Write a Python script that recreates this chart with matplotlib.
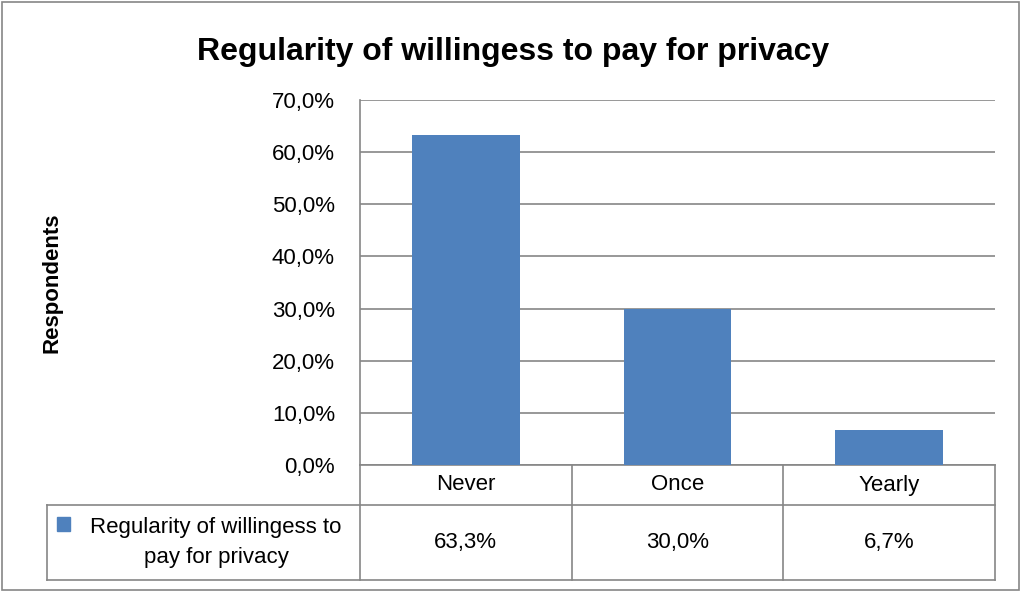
import matplotlib.pyplot as plt
from matplotlib.patches import Rectangle

plt.rcParams['font.family'] = ['Liberation Sans', 'DejaVu Sans']

categories = ['Never', 'Once', 'Yearly']
shares = [63.3, 30.0, 6.7]
legend_lines = ['Regularity of willingess to', 'pay for privacy']
title = 'Regularity of willingess to pay for privacy'
y_label = 'Respondents'
y_ticks = [0, 10, 20, 30, 40, 50, 60, 70]

W, H = 1023, 594
bar_color = '#4F81BD'
line_color = '#868686'
fs = 16


def pct(v):
    return f'{v:.1f}'.replace('.', ',') + '%'


fig = plt.figure(figsize=(W / 100, H / 100), dpi=100)

# plot area in pixels: x 360..995, y 100..465
px_l, px_r, px_t, px_b = 360, 995, 100, 465
ax = fig.add_axes([px_l / W, 1 - px_b / H, (px_r - px_l) / W, (px_b - px_t) / H])
ax.bar(range(len(categories)), shares, width=0.51, color=bar_color, zorder=3)
ax.set_xlim(-0.5, len(categories) - 0.5)
ax.set_ylim(0, 70)
ax.set_yticks(y_ticks)
ax.set_yticklabels([pct(v) for v in y_ticks], fontsize=fs)
ax.set_xticks([])
ax.tick_params(axis='y', length=0, pad=18)
ax.grid(axis='y', color=line_color, linewidth=1.2, zorder=0)
for s in ['top', 'right']:
    ax.spines[s].set_visible(False)
for s in ['left', 'bottom']:
    ax.spines[s].set_color(line_color)
    ax.spines[s].set_linewidth(1.2)

# overlay in pixel coordinates for the data table, title and frame
ov = fig.add_axes([0, 0, 1, 1], zorder=-1)
ov.set_xlim(0, W)
ov.set_ylim(H, 0)
ov.axis('off')

ov.add_patch(Rectangle((2, 2), W - 6, H - 6, fill=False, edgecolor=line_color, linewidth=1.2))

ov.text(513, 60, title, ha='center', va='baseline', fontsize=23, fontweight='bold')
ov.text(52, 283, y_label, ha='center', va='center', rotation=90, fontsize=fs, fontweight='bold')

row_top, row_mid, row_bot = px_b, 505, 580
col_x = [px_l + (px_r - px_l) * i / len(categories) for i in range(len(categories) + 1)]
lw = 1.2
for x in col_x:
    ov.plot([x, x], [row_top, row_bot], color=line_color, lw=lw)
ov.plot([47, 47], [row_mid, row_bot], color=line_color, lw=lw)
ov.plot([47, px_r], [row_mid, row_mid], color=line_color, lw=lw)
ov.plot([47, px_r], [row_bot, row_bot], color=line_color, lw=lw)

for i, (cat, v) in enumerate(zip(categories, shares)):
    cx = (col_x[i] + col_x[i + 1]) / 2
    ov.text(cx, (row_top + row_mid) / 2, cat, ha='center', va='center', fontsize=fs)
    ov.text(cx, (row_mid + row_bot) / 2, pct(v), ha='center', va='center', fontsize=fs)

# legend key and series name in the first table cell
ov.add_patch(Rectangle((57, 517), 13, 14, color=bar_color))
ov.text(216, 527, legend_lines[0], ha='center', va='center', fontsize=fs)
ov.text(216, 558, legend_lines[1], ha='center', va='center', fontsize=fs)

fig.savefig('out.png', dpi=100)
